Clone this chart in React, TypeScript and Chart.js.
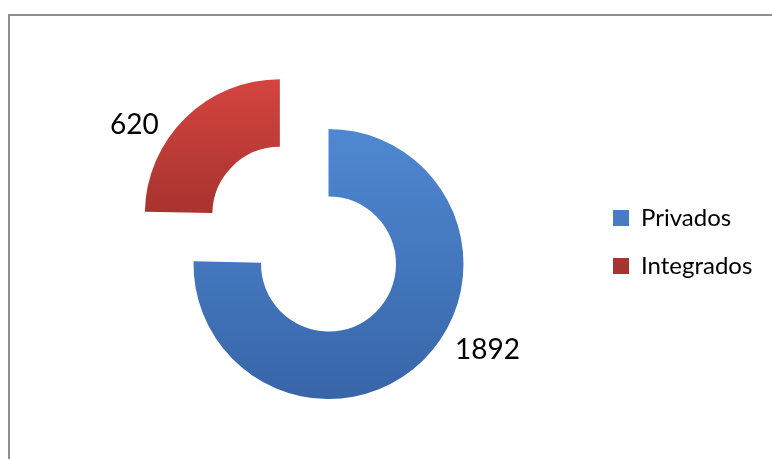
import React, { useEffect, useRef } from "react";
import { Chart, registerables } from "chart.js";

Chart.register(...registerables);

// ---- data ----
const categories = ["Privados", "Integrados"];
const values = [1892, 620];

// ---- style ----
const topColors = ["#4f88d2", "#d4443f"];
const bottomColors = ["#3865a8", "#a8332f"];
const sliceOffsets = [0, 278];
const labelAngleFrac = [0.437, 0.344];
const labelGap = [46, 36];
const FONT = "Lato";
const W = 772;
const H = 459;

const framePlugin = {
  id: "frame",
  beforeDraw(chart: any) {
    const ctx = chart.ctx;
    ctx.save();
    ctx.fillStyle = "#8e8e8e";
    ctx.fillRect(8, 14, 2, H - 14);
    ctx.fillRect(8, 14, W - 8, 2);
    ctx.restore();
  },
};

const valueLabelPlugin = {
  id: "valueLabels",
  afterDatasetsDraw(chart: any) {
    const ctx = chart.ctx;
    const meta = chart.getDatasetMeta(0);
    ctx.save();
    ctx.font = `28px ${FONT}`;
    ctx.fillStyle = "#000";
    ctx.textAlign = "center";
    ctx.textBaseline = "middle";
    meta.data.forEach((arc: any, i: number) => {
      const { x, y, startAngle, endAngle, outerRadius } = arc.getProps(
        ["x", "y", "startAngle", "endAngle", "outerRadius"],
        true
      );
      const half = (startAngle + endAngle) / 2;
      const tr = (arc.options.offset || 0) / 4;
      const cx = x + Math.cos(half) * tr;
      const cy = y + Math.sin(half) * tr;
      const a = startAngle + labelAngleFrac[i] * (endAngle - startAngle);
      const r = outerRadius + labelGap[i];
      ctx.fillText(String(values[i]), cx + Math.cos(a) * r, cy + Math.sin(a) * r);
    });
    ctx.restore();
  },
};

export default function App() {
  const ref = useRef<HTMLCanvasElement>(null);
  useEffect(() => {
    document.body.style.margin = "0";
    const canvas = ref.current!;
    const fontSize = 24;
    const boxW = 16;
    const legendPad = 24;
    const mctx = document.createElement("canvas").getContext("2d")!;
    mctx.font = `${fontSize}px ${FONT}`;
    const maxText = Math.max(...categories.map((c) => mctx.measureText(c).width));
    const legendW = legendPad + boxW + fontSize / 2 + maxText + 10;
    const legendLeft = 589;
    const padRight = Math.max(0, W - legendLeft - legendW);

    const bg = (c: any) => {
      const chart = c.chart;
      const area = chart.chartArea;
      if (!area) return topColors[c.dataIndex];
      const cy = (area.top + area.bottom) / 2;
      const i = c.dataIndex;
      const y0 = cy - 135;
      const y1 = i === 0 ? cy + 135 : cy;
      const g = chart.ctx.createLinearGradient(0, y0, 0, y1);
      g.addColorStop(0, topColors[i]);
      g.addColorStop(1, bottomColors[i]);
      return g;
    };

    const chart = new Chart(canvas, {
      type: "doughnut",
      data: {
        labels: categories,
        datasets: [
          {
            data: values,
            backgroundColor: bg as any,
            borderWidth: 0,
            offset: sliceOffsets,
            hoverOffset: 0,
            radius: 135,
            cutout: "50%",
          } as any,
        ],
      },
      options: {
        animation: false,
        responsive: false,
        layout: { padding: { left: 68, top: 69, right: padRight, bottom: 0 } },
        plugins: {
          legend: {
            position: "right",
            align: "start",
            title: {
              display: true,
              text: "",
              font: { size: 10 },
              padding: { top: 101, bottom: 0 },
            },
            labels: {
              boxWidth: boxW,
              boxHeight: boxW,
              padding: legendPad,
              color: "#000",
              font: { family: FONT, size: fontSize },
            },
          },
          tooltip: { enabled: false },
        },
      } as any,
      plugins: [framePlugin, valueLabelPlugin],
    });
    return () => chart.destroy();
  }, []);
  return (
    <div style={{ position: "absolute", left: 0, top: 0, width: W, height: H }}>
      <canvas ref={ref} width={W} height={H} style={{ width: W, height: H, display: "block" }} />
    </div>
  );
}
